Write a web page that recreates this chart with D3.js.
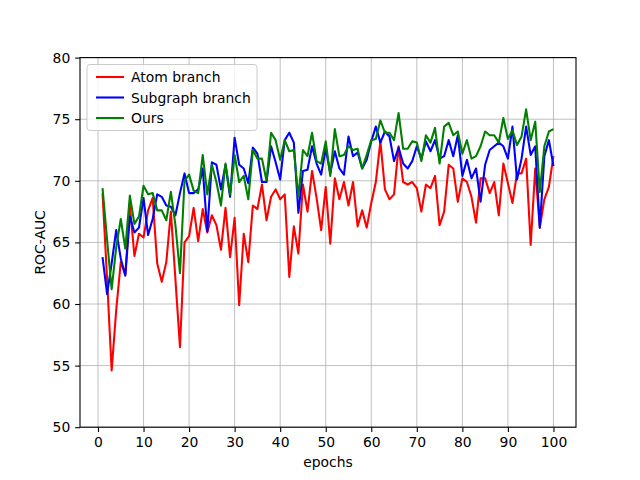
<!DOCTYPE html>
<html>
<head>
<meta charset="utf-8">
<script src="https://cdn.jsdelivr.net/npm/d3@7"></script>
<style>
html,body{margin:0;padding:0;background:#fff;}
svg{display:block;}
text{font-family:"DejaVu Sans",sans-serif;}
</style>
</head>
<body>
<svg id="chart" width="640" height="480"></svg>
<script>
const epochs = d3.range(1, 101);
const atomBranch = [69.0,62.0,54.6,59.5,63.4,62.4,68.0,63.9,65.7,65.4,
67.6,68.6,63.3,61.8,63.4,67.5,62.0,56.5,65.0,65.5,
67.8,65.1,67.7,65.8,67.2,66.4,64.4,67.8,63.8,67.0,
59.9,65.7,63.4,68.0,67.7,69.7,66.8,68.7,69.3,68.5,
68.9,62.2,66.3,64.1,69.7,67.5,70.8,68.6,66.0,69.5,
64.9,70.2,68.5,69.9,68.0,69.9,66.3,67.6,66.2,68.2,
69.9,73.2,69.3,68.5,68.9,72.8,69.9,69.7,69.9,69.4,
67.5,69.7,69.4,70.4,66.4,67.5,71.3,71.0,68.3,70.2,
69.9,68.7,66.6,70.2,70.2,69.0,69.9,67.2,71.4,69.8,
68.2,70.6,70.6,71.8,64.8,71.0,66.2,68.5,69.5,72.0];
const subgraphBranch = [63.8,60.8,63.3,66.0,63.7,62.3,67.1,65.8,66.2,68.6,
65.6,66.9,68.9,68.7,68.0,67.9,67.2,69.0,70.6,69.0,
69.0,69.3,71.0,65.9,71.5,71.3,69.3,71.3,68.7,73.5,
71.3,71.0,69.8,72.7,72.2,69.9,69.9,72.8,71.5,70.1,
73.3,73.9,73.1,67.4,70.8,70.9,72.8,71.4,70.5,72.6,
70.6,72.4,71.0,70.5,73.6,72.0,72.3,71.0,71.7,73.2,
74.4,73.1,74.0,73.6,71.6,72.7,71.4,71.0,71.6,72.8,
71.8,73.2,72.4,73.3,71.8,72.0,73.3,72.0,73.7,70.4,
71.7,70.2,71.0,68.3,71.3,72.5,72.8,73.1,72.8,71.8,
74.4,70.1,71.8,74.4,72.1,72.8,66.2,72.0,73.3,71.2];
const ours = [69.4,65.2,61.2,64.6,66.9,64.5,68.8,66.5,67.1,69.6,
68.9,69.0,67.6,67.6,66.8,69.1,66.4,62.5,70.0,70.5,
69.2,69.0,72.1,68.9,71.3,69.9,68.0,71.4,68.9,72.1,
69.9,70.4,68.5,72.5,71.8,71.8,70.0,73.9,73.3,71.7,
73.3,72.4,72.5,68.7,72.5,72.0,73.9,71.6,71.4,73.2,
70.4,74.2,72.0,72.1,72.8,72.5,72.6,71.0,72.1,73.3,
73.4,74.9,73.9,73.9,73.3,75.5,72.6,72.6,73.2,73.1,
71.6,73.7,73.1,74.3,71.4,74.4,74.7,73.7,74.0,72.2,
73.3,71.8,72.0,72.8,74.0,73.7,73.7,73.1,75.1,73.4,
74.1,72.9,73.6,75.8,73.3,74.8,69.1,72.8,74.0,74.2];
const seriesNames = ["Atom branch", "Subgraph branch", "Ours"];
const seriesColors = ["#ff0000", "#0000ff", "#008000"];
const xTicks = d3.range(0, 101, 10);
const yTicks = [50, 55, 60, 65, 70, 75, 80];
const xLabel = "epochs";
const yLabel = "ROC-AUC";

const allSeries = [atomBranch, subgraphBranch, ours];

const svg = d3.select("#chart");
const L = 80, R = 576, T = 57.6, B = 427.2;
const x = d3.scaleLinear().domain([-3.95, 104.95]).range([L, R]);
const y = d3.scaleLinear().domain([50, 80]).range([B, T]);

// grid
const g = svg.append("g");
g.selectAll(".gx").data(xTicks).enter().append("line")
  .attr("x1", d => x(d)).attr("x2", d => x(d)).attr("y1", T).attr("y2", B)
  .attr("stroke", "#b0b0b0").attr("stroke-width", 0.8);
g.selectAll(".gy").data(yTicks).enter().append("line")
  .attr("x1", L).attr("x2", R).attr("y1", d => y(d)).attr("y2", d => y(d))
  .attr("stroke", "#b0b0b0").attr("stroke-width", 0.8);

// lines
const clip = svg.append("clipPath").attr("id", "clip").append("rect")
  .attr("x", L).attr("y", T).attr("width", R - L).attr("height", B - T);
const line = d3.line().x((d, i) => x(epochs[i])).y(d => y(d));
allSeries.forEach((s, k) => {
  svg.append("path").datum(s).attr("d", line)
    .attr("fill", "none").attr("stroke", seriesColors[k])
    .attr("stroke-width", 2.08).attr("stroke-linejoin", "round").attr("stroke-linecap", "butt")
    .attr("clip-path", "url(#clip)");
});

// axes
const xAxis = d3.axisBottom(x).tickValues(xTicks).tickSize(4.86).tickPadding(4.9).tickFormat(d3.format("d"));
const yAxis = d3.axisLeft(y).tickValues(yTicks).tickSize(4.86).tickPadding(4.9).tickFormat(d3.format("d"));
const gx = svg.append("g").attr("transform", `translate(0,${B})`).call(xAxis);
const gy = svg.append("g").attr("transform", `translate(${L},0)`).call(yAxis);
[gx, gy].forEach(a => {
  a.select(".domain").remove();
  a.selectAll(".tick line").attr("stroke", "#000").attr("stroke-width", 1.1);
  a.selectAll(".tick text").attr("font-size", "13.9px").attr("fill", "#000")
    .attr("font-family", "DejaVu Sans, sans-serif");
});
// frame
svg.append("rect").attr("x", L).attr("y", T).attr("width", R - L).attr("height", B - T)
  .attr("fill", "none").attr("stroke", "#000").attr("stroke-width", 1.1);

// axis labels
svg.append("text").attr("x", (L + R) / 2).attr("y", 467).attr("text-anchor", "middle")
  .attr("font-size", "13.9px").text(xLabel);
svg.append("text").attr("transform", `translate(45,${(T + B) / 2}) rotate(-90)`)
  .attr("text-anchor", "middle").attr("font-size", "13.9px").text(yLabel);

// legend
const lg = svg.append("g");
lg.append("rect").attr("x", 87).attr("y", 64.5).attr("width", 170).attr("height", 66)
  .attr("rx", 3).attr("fill", "#fff").attr("fill-opacity", 0.8)
  .attr("stroke", "#cccccc").attr("stroke-width", 1);
seriesNames.forEach((n, k) => {
  const yy = 77 + k * 20.5;
  lg.append("line").attr("x1", 96).attr("x2", 124).attr("y1", yy).attr("y2", yy)
    .attr("stroke", seriesColors[k]).attr("stroke-width", 2.08);
  lg.append("text").attr("x", 131).attr("y", yy + 5).attr("font-size", "13.9px").text(n);
});
</script>
</body>
</html>
